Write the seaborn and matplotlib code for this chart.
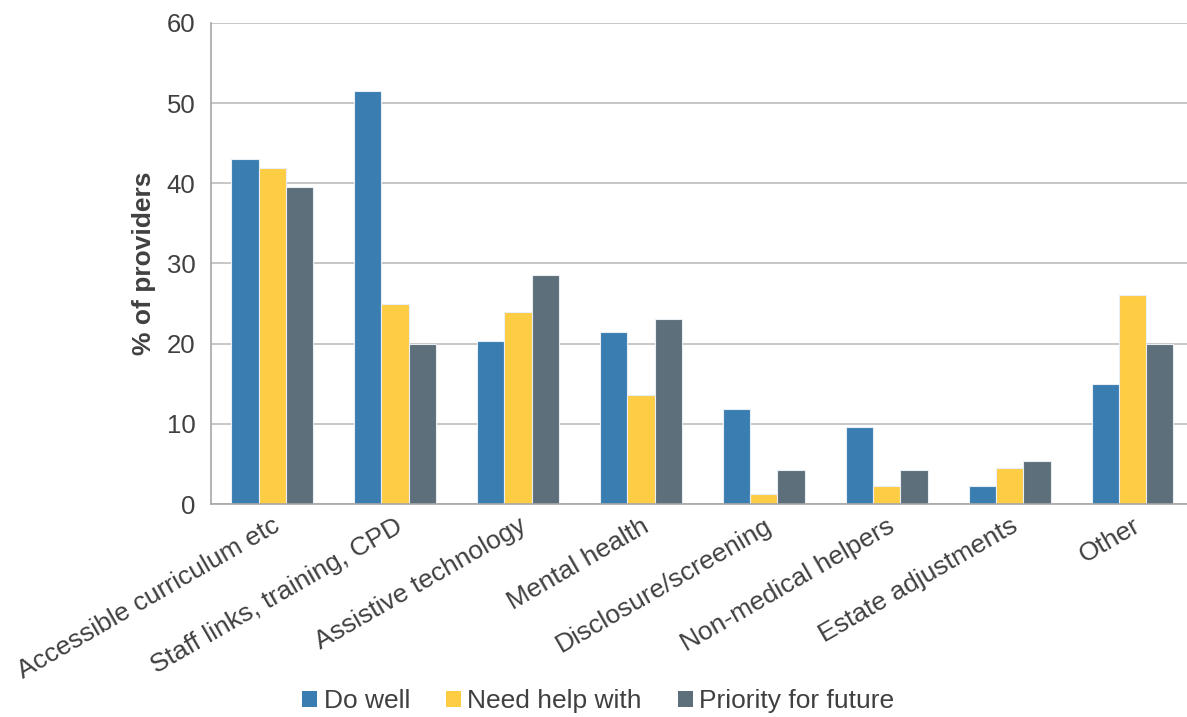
import numpy as np
import pandas as pd
import matplotlib
matplotlib.use("Agg")
import matplotlib.pyplot as plt
import seaborn as sns
from matplotlib.patches import Patch

categories = ["Accessible curriculum etc", "Staff links, training, CPD", "Assistive technology",
              "Mental health", "Disclosure/screening", "Non-medical helpers",
              "Estate adjustments", "Other"]
do_well = [43.0, 51.5, 20.3, 21.4, 11.9, 9.6, 2.3, 15.0]
need_help = [41.9, 25.0, 23.9, 13.6, 1.2, 2.3, 4.5, 26.1]
priority = [39.5, 19.9, 28.6, 23.1, 4.3, 4.3, 5.4, 20.0]
series = ["Do well", "Need help with", "Priority for future"]
colors = ["#3A7DB1", "#FFCD44", "#5C6F7A"]

df = pd.DataFrame({"category": categories, series[0]: do_well,
                   series[1]: need_help, series[2]: priority})
long = df.melt(id_vars="category", var_name="series", value_name="pct")

sns.set_style("white")
plt.rcParams['font.family'] = ['Liberation Sans', 'DejaVu Sans']

fig = plt.figure(figsize=(11.87, 7.17), dpi=100)
# plot area runs a bit past the right edge of the picture, as in the original
ax = fig.add_axes([0.1775, 0.297, 0.8284, 0.671])

sns.barplot(data=long, x="category", y="pct", hue="series", hue_order=series,
            palette=colors, saturation=1, width=0.665, gap=0, edgecolor="#E8EEF4",
            linewidth=0.8, legend=False, ax=ax)

grid_c = "#BDBDBD"
txt_c = "#404040"
ax.set_ylim(0, 60)
ax.set_xlim(-0.5, len(categories) - 0.5)
ax.set_yticks(range(0, 61, 10))
ax.yaxis.grid(True, color=grid_c, linewidth=1.2)
ax.set_axisbelow(True)
for s in ["top", "right"]:
    ax.spines[s].set_visible(False)
for s in ["left", "bottom"]:
    ax.spines[s].set_color("#A6A6A6")
    ax.spines[s].set_linewidth(1.2)

ax.tick_params(axis="y", which="major", direction="inout", length=10, color="#A6A6A6",
               labelsize=18.5, labelcolor=txt_c, pad=6)
ax.set_xticks(np.arange(len(categories)))
ax.set_xticks(np.arange(len(categories) + 1) - 0.5, minor=True)
ax.tick_params(axis="x", which="major", length=0, pad=7)
ax.tick_params(axis="x", which="minor", direction="out", length=7, color="#A6A6A6")
ax.set_xticklabels(categories, rotation=30, ha="right", va="top",
                   rotation_mode="anchor", fontsize=19, color=txt_c)

ax.set_xlabel("")
ax.set_ylabel("% of providers", fontsize=19, fontweight="bold", color=txt_c, labelpad=8)

handles = [Patch(facecolor=c, edgecolor="none") for c in colors]
fig.legend(handles, series, loc="center", bbox_to_anchor=(0.504, 0.022), ncol=3,
           frameon=False, fontsize=19, handlelength=0.57, handleheight=0.57,
           handletextpad=0.25, columnspacing=1.35, labelcolor=txt_c)

fig.savefig("out.png", dpi=100)
